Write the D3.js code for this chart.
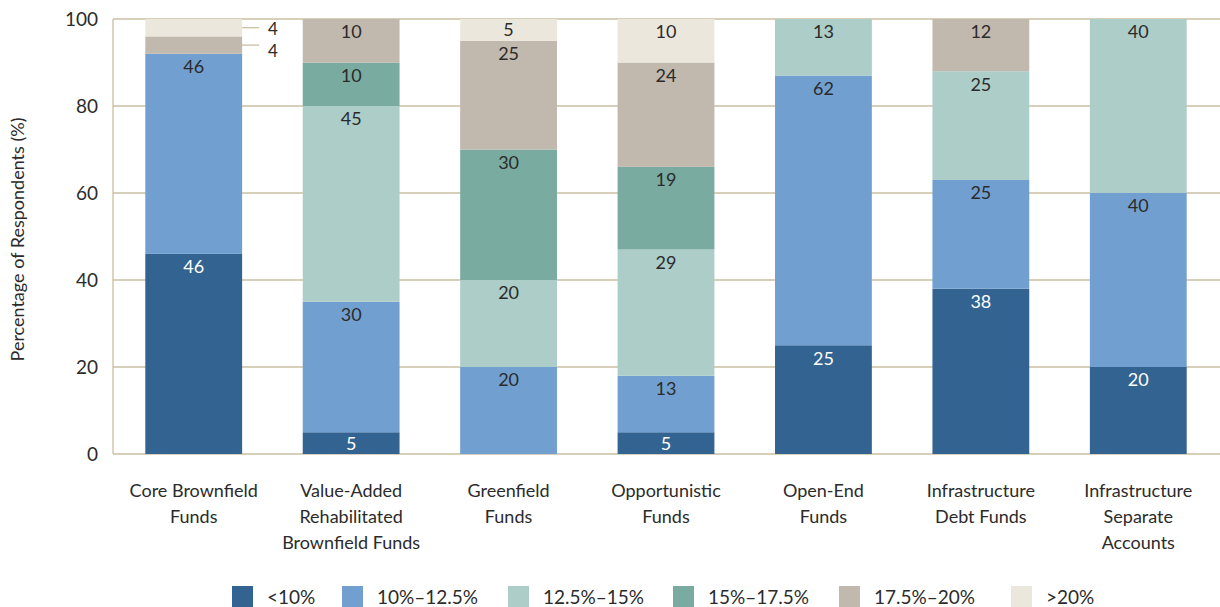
<!DOCTYPE html>
<html>
<head>
<meta charset="utf-8">
<script src="https://cdn.jsdelivr.net/npm/d3@7"></script>
<style>
  html, body { margin: 0; padding: 0; background: #fff; }
  svg { display: block; font-family: Lato, "Open Sans", sans-serif; }
</style>
</head>
<body>
<svg id="chart" width="1220" height="607"></svg>
<script>
// ---- Data ----
const categories = [
  "Core Brownfield Funds",
  "Value-Added Rehabilitated Brownfield Funds",
  "Greenfield Funds",
  "Opportunistic Funds",
  "Open-End Funds",
  "Infrastructure Debt Funds",
  "Infrastructure Separate Accounts"
];
const categoryLines = [
  ["Core Brownfield", "Funds"],
  ["Value-Added", "Rehabilitated", "Brownfield Funds"],
  ["Greenfield", "Funds"],
  ["Opportunistic", "Funds"],
  ["Open-End", "Funds"],
  ["Infrastructure", "Debt Funds"],
  ["Infrastructure", "Separate", "Accounts"]
];
const seriesNames = ["<10%", "10%–12.5%", "12.5%–15%", "15%–17.5%", "17.5%–20%", ">20%"];
const lt10     = [46, 5, 0, 5, 25, 38, 20];
const s10_125  = [46, 30, 20, 13, 62, 25, 40];
const s125_15  = [0, 45, 20, 29, 13, 25, 40];
const s15_175  = [0, 10, 30, 19, 0, 0, 0];
const s175_20  = [4, 10, 25, 24, 0, 12, 0];
const gt20     = [4, 0, 5, 10, 0, 0, 0];
const yTicks = [0, 20, 40, 60, 80, 100];

const seriesValues = [lt10, s10_125, s125_15, s15_175, s175_20, gt20];
const colors = ["#336391", "#71a0d0", "#accdc8", "#79aba0", "#c1b8ae", "#ebe7dd"];
const labelColors = ["#ffffff", "#2b2b2b", "#2b2b2b", "#2b2b2b", "#2b2b2b", "#2b2b2b"];

// ---- Layout ----
const svg = d3.select("#chart");
const W = 1220, H = 607;
const plotLeft = 113, plotTop = 19, plotBottom = 454;
const x = d3.scaleBand().domain(categories).range([115, 1217])
  .paddingInner(0.385).paddingOuter(0.1925);
const y = d3.scaleLinear().domain([0, 100]).range([plotBottom, plotTop]);
const gridColor = "#cbbfa3";
const textColor = "#2b2b2b";

// gridlines
svg.append("g").selectAll("line").data(yTicks).join("line")
  .attr("x1", plotLeft).attr("x2", W)
  .attr("y1", d => y(d)).attr("y2", d => y(d))
  .attr("stroke", gridColor).attr("stroke-width", 1.3);

// left axis line
svg.append("line")
  .attr("x1", plotLeft).attr("x2", plotLeft)
  .attr("y1", y(100)).attr("y2", y(0))
  .attr("stroke", gridColor).attr("stroke-width", 1.3);

// y axis labels via d3 axis
const yAxis = svg.append("g")
  .attr("transform", `translate(${plotLeft},0)`)
  .call(d3.axisLeft(y).tickValues(yTicks).tickSize(0).tickPadding(15));
yAxis.select(".domain").remove();
yAxis.selectAll("text").attr("font-size", 19).attr("fill", textColor)
  .attr("font-family", "Lato, sans-serif");

// y axis title
svg.append("text")
  .attr("transform", `translate(24,${(y(0) + y(100)) / 2 + 3}) rotate(-90)`)
  .attr("text-anchor", "middle")
  .attr("font-size", 18).attr("fill", textColor)
  .text("Percentage of Respondents (%)");

// stacked data
const rows = categories.map((c, i) => {
  const r = {cat: c};
  seriesNames.forEach((s, j) => r[s] = seriesValues[j][i]);
  return r;
});
const stack = d3.stack().keys(seriesNames)(rows);

const layers = svg.append("g").selectAll("g").data(stack).join("g")
  .attr("fill", (d, i) => colors[i]);
layers.selectAll("rect").data(d => d.filter(p => p[1] - p[0] > 0)).join("rect")
  .attr("x", d => x(d.data.cat))
  .attr("width", x.bandwidth())
  .attr("y", d => y(d[1]))
  .attr("height", d => y(d[0]) - y(d[1]));

// labels
const labG = svg.append("g");
stack.forEach((layer, si) => {
  layer.forEach(p => {
    const v = p[1] - p[0];
    if (v <= 0) return;
    const top = y(p[1]), bot = y(p[0]);
    if (v >= 5) {
      const cy = top + Math.min(13, (bot - top) / 2);
      labG.append("text")
        .attr("x", x(p.data.cat) + x.bandwidth() / 2)
        .attr("y", cy)
        .attr("dy", "0.36em")
        .attr("text-anchor", "middle")
        .attr("font-size", 18)
        .attr("fill", labelColors[si])
        .text(v);
    } else {
      const cy = (top + bot) / 2;
      const x0 = x(p.data.cat) + x.bandwidth();
      labG.append("line")
        .attr("x1", x0).attr("x2", x0 + 17)
        .attr("y1", cy).attr("y2", cy)
        .attr("stroke", gridColor).attr("stroke-width", 1.3);
      labG.append("text")
        .attr("x", x0 + 26)
        .attr("y", cy + (si === 5 ? 1 : 6))
        .attr("dy", "0.36em")
        .attr("font-size", 17)
        .attr("fill", textColor)
        .text(v);
    }
  });
});

// category labels
const catG = svg.append("g");
categories.forEach((c, i) => {
  const t = catG.append("text")
    .attr("x", x(c) + x.bandwidth() / 2)
    .attr("y", 497)
    .attr("text-anchor", "middle")
    .attr("font-size", 18)
    .attr("fill", textColor);
  categoryLines[i].forEach((ln, k) => {
    t.append("tspan").attr("x", x(c) + x.bandwidth() / 2)
      .attr("y", 497 + k * 26).text(ln);
  });
});

// legend
const legendX = [232, 342, 508, 673, 839, 1011];
const lg = svg.append("g");
seriesNames.forEach((s, i) => {
  lg.append("rect").attr("x", legendX[i]).attr("y", 586)
    .attr("width", 21).attr("height", 22).attr("fill", colors[i]);
  lg.append("text").attr("x", legendX[i] + 35).attr("y", 597)
    .attr("dy", "0.36em").attr("font-size", 19).attr("fill", textColor)
    .text(s);
});
</script>
</body>
</html>
